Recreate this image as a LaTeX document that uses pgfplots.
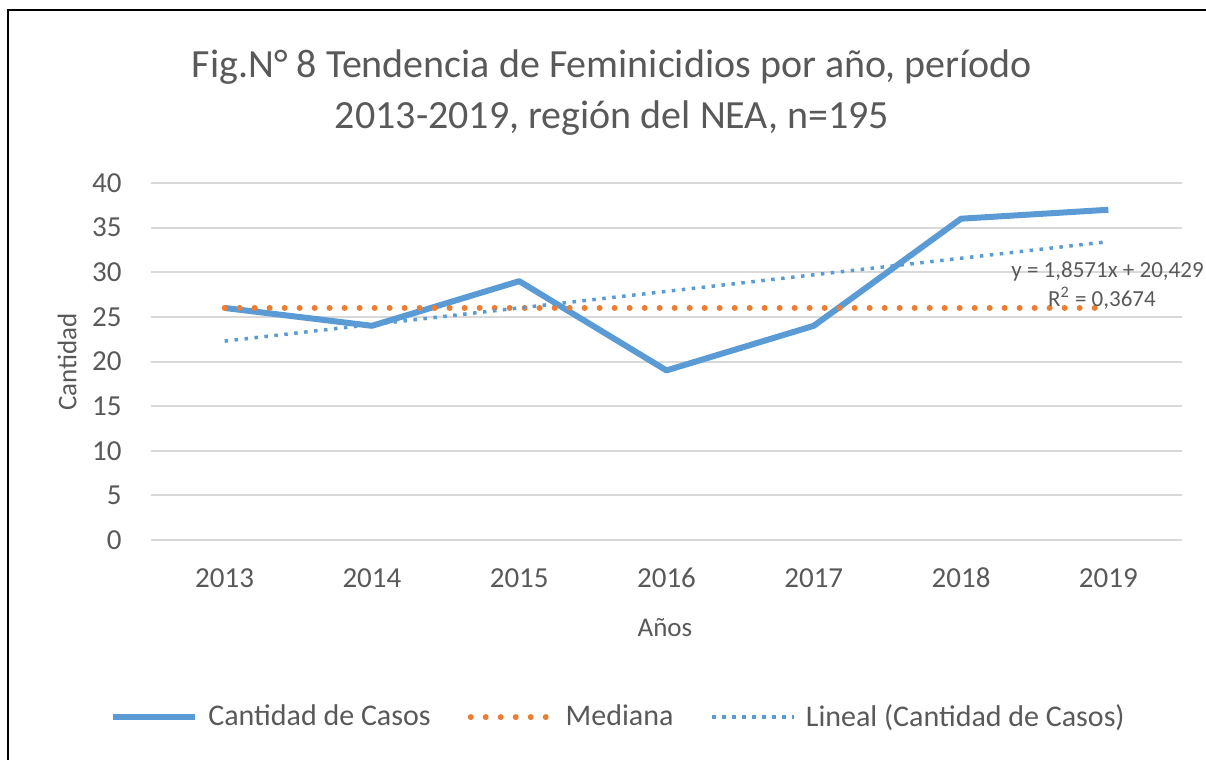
\documentclass[border=0pt]{standalone}
\usepackage{fontspec}
\setmainfont{Carlito}
\usepackage{pgfplots}
\pgfplotsset{compat=1.18}
\pgfplotsset{legend image code/.code={\draw[#1] (1.5pt,0pt) -- (42.5pt,0pt);}}

\definecolor{xlblue}{HTML}{5B9BD5}
\definecolor{xlorange}{HTML}{ED7D31}
\definecolor{xltext}{HTML}{595959}
\definecolor{xlgrid}{HTML}{D9D9D9}

\begin{document}
\begin{tikzpicture}
\useasboundingbox (0pt,0pt) rectangle (603pt,380pt);

% frame (left and top edges only are visible)
\draw[black, line width=1pt] (4pt,0pt) -- (4pt,375pt) -- (603pt,375pt);

% title
\node[xltext, font=\fontsize{20}{25.5}\selectfont, align=center] at (306pt,333.5pt)
  {Fig.N° 8 Tendencia de Feminicidios por año, período\\2013-2019, región del NEA, n=195};

\begin{axis}[
    at={(75.5pt,110pt)}, anchor=south west,
    scale only axis,
    width=515.5pt, height=178.5pt,
    xmin=0.5, xmax=7.5,
    ymin=0, ymax=40,
    xtick={1,2,3,4,5,6,7},
    xticklabels={2013,2014,2015,2016,2017,2018,2019},
    ytick={0,5,...,40},
    axis line style={draw=none},
    major tick style={draw=none},
    ymajorgrids,
    grid style={xlgrid, line width=1pt},
    /pgf/number format/assume math mode=true,
    ticklabel style={xltext, font=\fontsize{14.5}{16}\selectfont},
    yticklabel style={anchor=east, inner sep=0pt, xshift=-14.5pt},
    xticklabel style={anchor=center, inner sep=0pt, yshift=-19pt},
    xlabel={Años},
    ylabel={Cantidad},
    label style={xltext, font=\fontsize{13.5}{15}\selectfont},
    xlabel style={at={(axis description cs:0.4985,-0.2465)}, anchor=center, inner sep=0pt},
    ylabel style={at={(axis description cs:-0.0815,0.4986)}, anchor=center, rotate=0, inner sep=0pt},
    legend columns=3,
    legend style={at={(axis description cs:-0.0398,-0.496)}, anchor=west,
        draw=none, fill=none, inner sep=0pt,
        font=\fontsize{15}{17}\selectfont, text=xltext,
        nodes={inner sep=0pt}},
    /tikz/every odd column/.append style={column sep=5pt},
    /tikz/every even column/.append style={column sep=18.5pt},
    clip=false,
]

% observed cases
\addplot[xlblue, line width=3pt, line join=round]
    coordinates {(1,26) (2,24) (3,29) (4,19) (5,24) (6,36) (7,37)};
\addlegendentry{Cantidad de Casos}

% median
\addplot[xlorange, line width=3pt, line cap=round, dash pattern=on 0pt off 7.5pt]
    coordinates {(1,26) (7,26)};
\addlegendentry{Mediana}

% linear trend
\addplot[xlblue, line width=1.75pt, dash pattern=on 1.75pt off 3.25pt]
    coordinates {(1,22.286) (7,33.428)};
\addlegendentry{Lineal (Cantidad de Casos)}

\end{axis}

% trend equation
\node[xltext, font=\fontsize{11.5}{13}\selectfont, anchor=east, inner sep=0pt] at (602pt,244pt)
  {y = 1,8571x + 20,429};
\node[xltext, font=\fontsize{11.5}{13}\selectfont, anchor=center, inner sep=0pt] at (551pt,231pt)
  {R\textsuperscript{2} = 0,3674};
\end{tikzpicture}
\end{document}
